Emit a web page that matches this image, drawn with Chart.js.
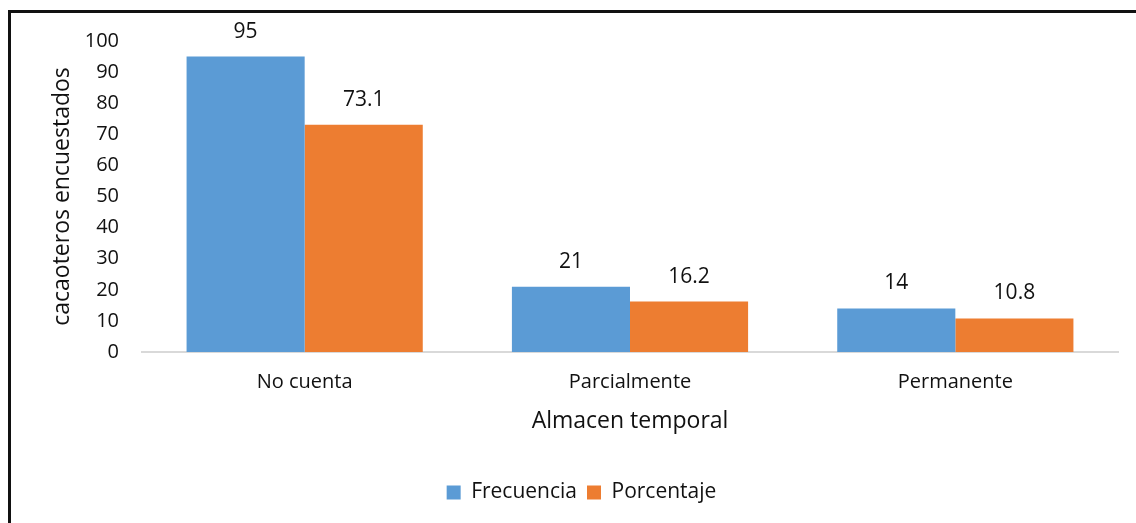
<!DOCTYPE html>
<html lang="es">
<head>
  <meta charset="UTF-8">
  <title>Almacen temporal</title>
  <script src="https://cdn.jsdelivr.net/npm/chart.js"></script>
  <style>
    html, body { margin: 0; padding: 0; background: #fff; }
    .frame {
      position: absolute;
      left: 8px;
      top: 10px;
      width: 1140px;
      height: 530px;
      border-left: 3px solid #111;
      border-top: 3px solid #111;
    }
    .chart-box {
      position: absolute;
      left: 0;
      top: 0;
      width: 1136px;
      height: 523px;
    }
  </style>
</head>
<body>
  <div class="frame"></div>
  <div class="chart-box">
    <canvas id="almacenChart"></canvas>
  </div>

  <script>
    // data
    const categories = ['No cuenta', 'Parcialmente', 'Permanente'];
    const frecuencia = [95, 21, 14];
    const porcentaje = [73.1, 16.2, 10.8];
    const yTicks = [0, 10, 20, 30, 40, 50, 60, 70, 80, 90, 100];

    const FONT = "'Open Sans', sans-serif";

    // value labels above each bar
    const barLabels = {
      id: 'barLabels',
      afterDatasetsDraw(chart) {
        const ctx = chart.ctx;
        ctx.save();
        ctx.font = '21px ' + FONT;
        ctx.fillStyle = '#111';
        ctx.textAlign = 'center';
        ctx.textBaseline = 'middle';
        chart.data.datasets.forEach((ds, i) => {
          chart.getDatasetMeta(i).data.forEach((bar, j) => {
            ctx.fillText(String(ds.data[j]), bar.x, bar.y - 25);
          });
        });
        ctx.restore();
      }
    };

    new Chart(document.getElementById('almacenChart'), {
      type: 'bar',
      data: {
        labels: categories,
        datasets: [
          { label: 'Frecuencia', data: frecuencia, backgroundColor: '#5B9BD5' },
          { label: 'Porcentaje', data: porcentaje, backgroundColor: '#ED7D31' }
        ]
      },
      options: {
        responsive: true,
        maintainAspectRatio: false,
        animation: false,
        layout: { padding: { left: 45, top: 41, right: 18, bottom: 10 } },
        datasets: { bar: { barPercentage: 1, categoryPercentage: 0.726 } },
        plugins: {
          legend: {
            position: 'bottom',
            labels: {
              font: { family: FONT, size: 21 },
              color: '#111',
              boxWidth: 14,
              boxHeight: 14,
              padding: 10
            }
          },
          tooltip: { enabled: false }
        },
        scales: {
          x: {
            grid: { display: false, drawTicks: false },
            border: { color: '#d9d9d9', width: 2 },
            ticks: { font: { family: FONT, size: 20 }, color: '#111', padding: 18 },
            title: {
              display: true,
              text: 'Almacen temporal',
              font: { family: FONT, size: 23 },
              color: '#111',
              padding: { top: 4, bottom: 37 }
            },
            afterFit: s => { s.height = 120; }
          },
          y: {
            min: 0,
            max: 100,
            afterBuildTicks: s => { s.ticks = yTicks.map(v => ({ value: v })); },
            grid: { display: false, drawTicks: false },
            border: { display: false },
            ticks: { font: { family: FONT, size: 20 }, color: '#111', padding: 23 },
            title: {
              display: true,
              text: 'cacaoteros encuestados',
              font: { family: FONT, size: 23 },
              color: '#111'
            },
            afterFit: s => { s.width = 97; }
          }
        }
      },
      plugins: [barLabels]
    });
  </script>
</body>
</html>
